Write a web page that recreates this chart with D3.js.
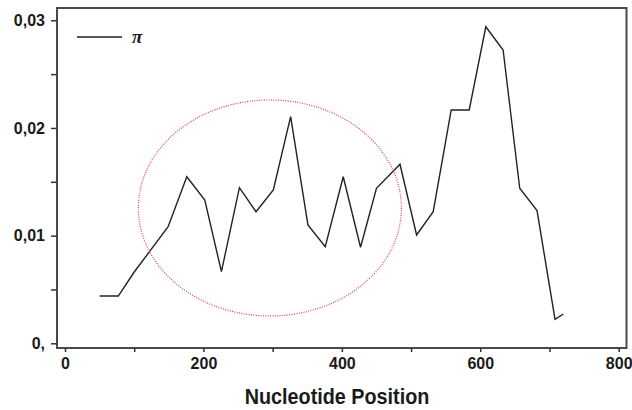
<!doctype html>
<html>
  <head>
    <meta charset="utf-8">
    <title>Nucleotide diversity</title>
    <script src="https://cdnjs.cloudflare.com/ajax/libs/d3/7.8.5/d3.min.js"></script>
    <style>
      body { margin: 0; background: #fff; }
      text { font-family: "Liberation Sans", Arial, sans-serif; font-weight: bold; }
    </style>
  </head>
  <body>
    <div id="chart"></div>
    <script>
      // data
      const position = [50, 77, 100, 149, 176, 202, 226, 252, 276, 301, 326, 351, 376, 402,
                        427, 450, 484, 508, 532, 558, 584, 608, 633, 657, 682, 708, 720];
      const pi = [0.00439, 0.00439, 0.00662, 0.01083, 0.01547, 0.01331, 0.00665, 0.01445,
                  0.01222, 0.01424, 0.02105, 0.01099, 0.00897, 0.01547, 0.00892, 0.0144,
                  0.01663, 0.01006, 0.01222, 0.02167, 0.02167, 0.0294, 0.02724, 0.0144,
                  0.01232, 0.00223, 0.00272];
      const xTicks = [0, 200, 400, 600, 800];
      const xMinor = [100, 300, 500, 700];
      const yTicks = [0, 0.01, 0.02, 0.03];
      const yTickLabels = ['0,', '0,01', '0,02', '0,03'];
      const yMinor = [0.005, 0.015, 0.025];
      // highlighted region: centre and radii in data units
      const ellipse = [{cx: 296, cy: 0.01257, rx: 190, ry: 0.01003}];

      const width = 632, height = 410;

      const x = d3.scaleLinear().domain([0, 800]).range([65, 618.7]);
      const y = d3.scaleLinear().domain([0, 0.03]).range([343.3, 20.3]);

      const frame = {left: 57, right: 626.5, top: 8, bottom: 348};

      const svg = d3.select('#chart')
        .append('svg')
        .attr('width', width)
        .attr('height', height);

      // plot frame
      svg.append('rect')
        .attr('x', frame.left)
        .attr('y', frame.top)
        .attr('width', frame.right - frame.left)
        .attr('height', frame.bottom - frame.top)
        .attr('fill', 'none')
        .attr('stroke', '#4a4a4a')
        .attr('stroke-width', 2);

      // y axis
      svg.append('g')
        .attr('transform', `translate(${frame.left},0)`)
        .call(d3.axisLeft(y).tickValues(yTicks).tickSize(6).tickPadding(6)
          .tickFormat((d, i) => yTickLabels[i]));
      svg.append('g')
        .attr('transform', `translate(${frame.left},0)`)
        .call(d3.axisLeft(y).tickValues(yMinor).tickSize(6).tickFormat(''));

      // x axis
      svg.append('g')
        .attr('transform', `translate(0,${frame.bottom})`)
        .call(d3.axisBottom(x).tickValues(xTicks).tickSize(4).tickPadding(6));
      svg.append('g')
        .attr('transform', `translate(0,${frame.bottom})`)
        .call(d3.axisBottom(x).tickValues(xMinor).tickSize(4).tickFormat(''));

      svg.selectAll('.domain').remove();
      svg.selectAll('.tick line').attr('stroke', '#333').attr('stroke-width', 1.5);
      svg.selectAll('.tick text')
        .attr('fill', '#1a1a1a')
        .style('font-size', '16px')
        .style('font-weight', 'bold');

      // axis title, a little condensed like the original
      svg.append('text')
        .attr('transform', 'translate(337,404) scale(0.9,1)')
        .attr('text-anchor', 'middle')
        .attr('fill', '#1a1a1a')
        .style('font-size', '22px')
        .text('Nucleotide Position');

      // pi line
      const line = d3.line()
        .x(d => x(d[0]))
        .y(d => y(d[1]));

      svg.append('path')
        .datum(d3.zip(position, pi))
        .attr('d', line)
        .attr('fill', 'none')
        .attr('stroke', '#222')
        .attr('stroke-width', 1.4)
        .attr('stroke-linejoin', 'miter');

      // dotted ellipse
      svg.selectAll('ellipse')
        .data(ellipse)
        .join('ellipse')
        .attr('cx', d => x(d.cx))
        .attr('cy', d => y(d.cy))
        .attr('rx', d => x(d.rx) - x(0))
        .attr('ry', d => y(0) - y(d.ry))
        .attr('fill', 'none')
        .attr('stroke', '#e0404a')
        .attr('stroke-width', 1.2)
        .attr('stroke-dasharray', '1,1.4');

      // legend
      const legend = svg.append('g').attr('transform', 'translate(77,37)');
      legend.append('line')
        .attr('x1', 0).attr('x2', 45)
        .attr('stroke', '#222').attr('stroke-width', 1.4);
      legend.append('text')
        .attr('x', 55)
        .attr('y', 6)
        .attr('fill', '#1a1a1a')
        .style('font-family', '"Liberation Serif", serif')
        .style('font-style', 'italic')
        .style('font-weight', 'bold')
        .style('font-size', '19px')
        .text('π');
    </script>
  </body>
</html>
